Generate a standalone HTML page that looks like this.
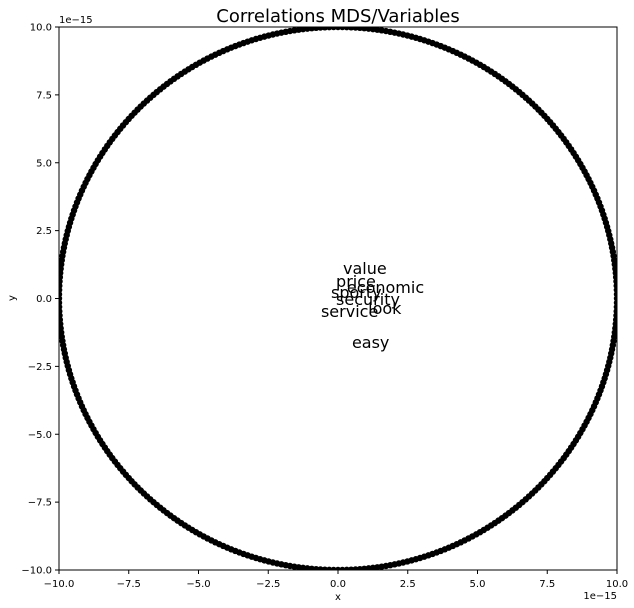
<!DOCTYPE html>
<html><head><meta charset="utf-8"><style>
html,body{margin:0;padding:0;background:#fff;}
svg{display:block;font-family:"DejaVu Sans","Liberation Sans",sans-serif;}
</style></head><body>
<svg id="chart" width="634" height="608">
<defs><clipPath id="pc"><rect x="59" y="27" width="558" height="543"/></clipPath></defs>
<text x="338" y="22" font-size="18" text-anchor="middle">Correlations MDS/Variables</text>
<g id="circle" clip-path="url(#pc)"></g>
<g id="labels"></g>
<rect x="59" y="27" width="558" height="543" fill="none" stroke="#000" stroke-width="1"/>
<g id="axes" font-size="10"></g>
<text x="338" y="600" font-size="10" text-anchor="middle">x</text>
<text x="15" y="298" font-size="10" text-anchor="middle" transform="rotate(-90 15 298)">y</text>
<text x="59" y="23" font-size="10">1e−15</text>
<text x="617" y="599" font-size="10" text-anchor="end">1e−15</text>
</svg>
<script>
const xTicks=[-10,-7.5,-5,-2.5,0,2.5,5,7.5,10];
const yTicks=[-10,-7.5,-5,-2.5,0,2.5,5,7.5,10];
const varNames=["value","price","economic","sporty","security","look","service","easy"];
const varX=[0.18,-0.07,0.32,-0.25,-0.07,1.08,-0.61,0.50];
const varY=[0.90,0.42,0.20,0.02,-0.24,-0.57,-0.68,-1.82];
const circleRadius=10;
const circlePointCount=400;
const NS="http://www.w3.org/2000/svg";
const X0=59,X1=617,Y0=570,Y1=27;
const sx=v=>X0+(v+10)/20*(X1-X0);
const sy=v=>Y0-(v+10)/20*(Y0-Y1);
const fmt=v=>(v<0?"−":"")+Math.abs(v).toFixed(1);
const axes=document.getElementById('axes');
xTicks.forEach(t=>{
 const l=document.createElementNS(NS,'line');
 l.setAttribute('x1',sx(t));l.setAttribute('x2',sx(t));l.setAttribute('y1',570);l.setAttribute('y2',574);l.setAttribute('stroke','#000');
 
 
 axes.appendChild(l);
 const tx=document.createElementNS(NS,'text');
 tx.setAttribute('x',sx(t));tx.setAttribute('y',587);tx.setAttribute('text-anchor','middle');tx.textContent=fmt(t);
 
 
 axes.appendChild(tx);
});
yTicks.forEach(t=>{
 const l=document.createElementNS(NS,'line');
 l.setAttribute('x1',55);l.setAttribute('x2',59);l.setAttribute('y1',sy(t));l.setAttribute('y2',sy(t));l.setAttribute('stroke','#000');
 
 
 axes.appendChild(l);
 const tx=document.createElementNS(NS,'text');
 tx.setAttribute('x',52);tx.setAttribute('y',sy(t)+3.5);tx.setAttribute('text-anchor','end');tx.textContent=fmt(t);
 
 
 axes.appendChild(tx);
});
const cg=document.getElementById('circle');
for(let i=0;i<circlePointCount;i++){
 const a=i/circlePointCount*2*Math.PI;
 const c=document.createElementNS(NS,'circle');
 c.setAttribute('cx',sx(circleRadius*Math.cos(a)));c.setAttribute('cy',sy(circleRadius*Math.sin(a)));c.setAttribute('r',3.2);c.setAttribute('fill','#000');
 
 
 cg.appendChild(c);
}
const lg=document.getElementById('labels');
varNames.forEach((n,i)=>{
 const t=document.createElementNS(NS,'text');
 t.setAttribute('x',sx(varX[i]));t.setAttribute('y',sy(varY[i]));t.setAttribute('font-size','16');t.textContent=n;
 
 
 lg.appendChild(t);
});
</script>
</body></html>
